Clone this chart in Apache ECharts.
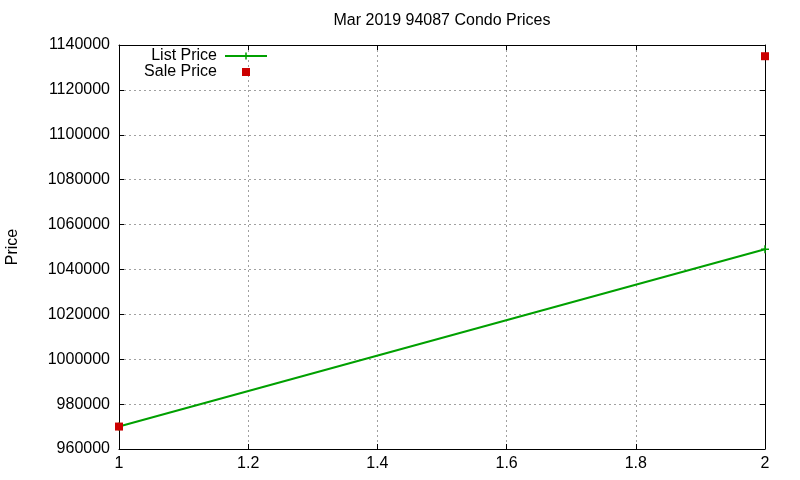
<!DOCTYPE html>
<html>
<head>
<meta charset="utf-8">
<script src="https://cdn.jsdelivr.net/npm/echarts@6/dist/echarts.min.js"></script>
<style>html,body{margin:0;padding:0;background:#fff}#c{width:800px;height:480px}</style>
</head>
<body>
<div id="c"></div>
<script>
const titleText = 'Mar 2019 94087 Condo Prices';
const seriesNames = ['List Price', 'Sale Price'];
const xValues = [1, 2];
const listPrice = [970000, 1049000];
const salePrice = [970000, 1135000];
const yMin = 960000, yMax = 1140000, yStep = 20000;
const xMin = 1, xMax = 2, xStep = 0.2;

const FONT = '"Liberation Sans", Arial, sans-serif';
const PLUS = 'path://M3.25,0h1.5v3.25h3.25v1.5h-3.25v3.25h-1.5v-3.25h-3.25v-1.5h3.25z';
const SQUARE = 'path://M0,0h8v8h-8z';
const LINEPLUS = 'path://M0,3h42v2h-42z M20.25,0.5h1.5v7h-1.5z';
const green = '#00a000', red = '#cc0000';

const chart = echarts.init(document.getElementById('c'), null, {renderer: 'canvas'});
const gridLine = {show: true, lineStyle: {color: '#a0a0a0', type: [2, 3], width: 1}};
const xFmt = v => String(parseFloat(Number(v).toFixed(1)));
const yFmt = v => String(Math.round(v));
chart.setOption({
  animation: false,
  backgroundColor: '#fff',
  textStyle: {fontFamily: FONT},
  title: {
    text: titleText, left: 442, top: 13, textAlign: 'center', padding: 0,
    textStyle: {fontFamily: FONT, fontSize: 16, fontWeight: 'normal', color: '#000'}
  },
  legend: {
    orient: 'vertical', right: 533, top: 48, padding: 0, align: 'right',
    itemWidth: 42, itemHeight: 8, itemGap: 0, selectedMode: false,
    textStyle: {fontFamily: FONT, fontSize: 16, color: '#000', padding: [0, 3, 0, 0]},
    data: [{name: seriesNames[0], icon: LINEPLUS}, {name: seriesNames[1], icon: SQUARE}]
  },
  grid: {left: 119, right: 35, top: 45, bottom: 31, containLabel: false, outerBoundsMode: 'none'},
  xAxis: [{
    type: 'value', min: xMin, max: xMax, interval: xStep,
    axisLine: {show: true, onZero: false, lineStyle: {color: '#000', width: 1}},
    axisTick: {show: true, inside: true, length: 5, lineStyle: {color: '#000'}},
    axisLabel: {formatter: xFmt, color: '#000', fontSize: 16, fontFamily: FONT, margin: 7},
    splitLine: gridLine
  }, {
    type: 'value', position: 'top', min: xMin, max: xMax, interval: xStep,
    axisLine: {show: true, onZero: false, lineStyle: {color: '#000', width: 1}},
    axisTick: {show: true, inside: true, length: 5, lineStyle: {color: '#000'}},
    axisLabel: {show: false}, splitLine: {show: false}
  }],
  yAxis: [{
    type: 'value', min: yMin, max: yMax, interval: yStep,
    name: 'Price', nameLocation: 'middle', nameGap: 98, nameRotate: 90,
    nameTextStyle: {fontFamily: FONT, fontSize: 16, color: '#000'},
    axisLine: {show: true, onZero: false, lineStyle: {color: '#000', width: 1}},
    axisTick: {show: true, inside: true, length: 5, lineStyle: {color: '#000'}},
    axisLabel: {formatter: yFmt, color: '#000', fontSize: 16, fontFamily: FONT, margin: 9},
    splitLine: gridLine
  }, {
    type: 'value', position: 'right', min: yMin, max: yMax, interval: yStep,
    axisLine: {show: true, onZero: false, lineStyle: {color: '#000', width: 1}},
    axisTick: {show: true, inside: true, length: 5, lineStyle: {color: '#000'}},
    axisLabel: {show: false}, splitLine: {show: false}
  }],
  series: [{
    name: seriesNames[0], type: 'line', xAxisIndex: 0, yAxisIndex: 0,
    data: xValues.map((x, i) => [x, listPrice[i]]),
    symbol: PLUS, symbolSize: 8, showAllSymbol: true, clip: false,
    lineStyle: {color: green, width: 2}, itemStyle: {color: green}, color: green, z: 2
  }, {
    name: seriesNames[1], type: 'scatter', xAxisIndex: 0, yAxisIndex: 0,
    data: xValues.map((x, i) => [x, salePrice[i]]),
    symbol: 'rect', symbolSize: 8, clip: false,
    itemStyle: {color: red, opacity: 1}, color: red, z: 3
  }]
});
</script>
</body>
</html>
